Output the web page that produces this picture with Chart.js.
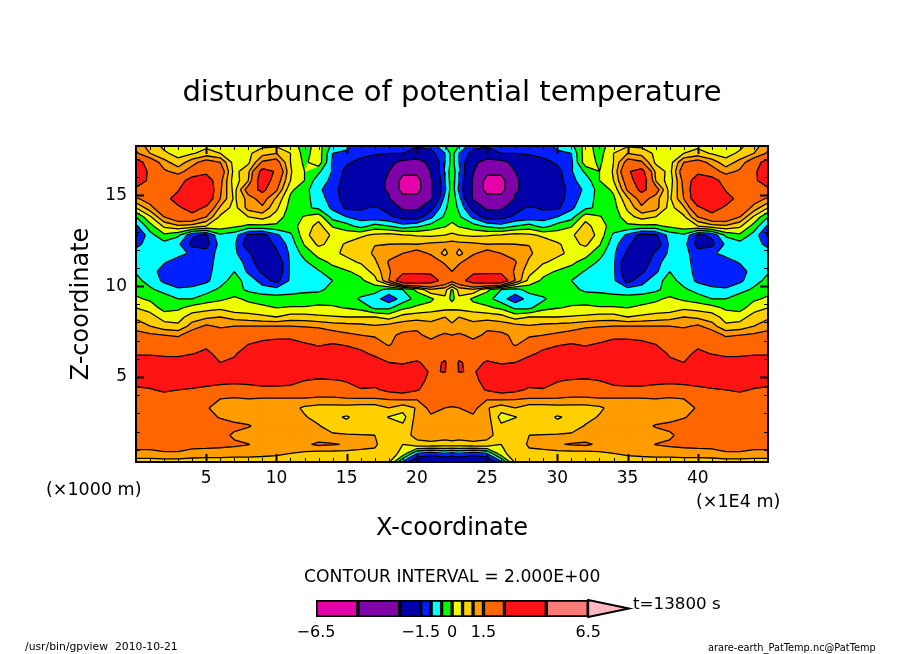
<!DOCTYPE html>
<html>
<head>
<meta charset="utf-8">
<title>disturbunce of potential temperature</title>
<script src="https://cdn.jsdelivr.net/npm/chart.js@4"></script>
<style>
  body { margin: 0; background: #fff; width: 904px; height: 654px; overflow: hidden; position: relative; }
  canvas { position: absolute; }
  .note { position: absolute; font-family: "DejaVu Sans"; color: #000; white-space: pre; line-height: 1; }
</style>
</head>
<body>
<canvas id="field" width="904" height="654" style="left:0;top:0;width:904px;height:654px"></canvas>
<canvas id="colorbar" width="350" height="60" style="left:290px;top:585px;width:350px;height:60px"></canvas>
<div class="note" style="left:46px;top:481px;font-size:17.5px">(×1000 m)</div>
<div class="note" style="left:696px;top:493px;font-size:17.5px">(×1E4 m)</div>
<div class="note" style="left:304px;top:568px;font-size:17.2px">CONTOUR INTERVAL = 2.000E+00</div>
<div class="note" style="left:633px;top:595px;font-size:16.7px">t=13800 s</div>
<div class="note" style="left:25px;top:642px;font-size:10.8px">/usr/bin/gpview  2010-10-21</div>
<div class="note" style="left:708px;top:643px;font-size:9.8px">arare-earth_PatTemp.nc@PatTemp</div>
<script>
const levels = [-6.5, -4.5, -2.5, -1.5, -1, -0.5, 0, 0.5, 1, 1.5, 2.5, 4.5, 6.5];
const bandColors = ['#e600aa', '#8000aa', '#0000aa', '#0020ff', '#00ffff', '#00ff00', '#eeff00',
  '#ffd000', '#ff9c00', '#ff6600', '#ff1414', '#ff7878'];
const overColor = '#ffb8c0';

const xTicks = [5, 10, 15, 20, 25, 30, 35, 40];
const zTicks = [5, 10, 15];
const barTicks = [-6.5, -1.5, 0, 1.5, 6.5];
const barTickLabels = ['−6.5', '−1.5', '0', '1.5', '6.5'];

// left half of the section, the right half is its mirror about x = 22.5
const xHalf = [0, 1, 2, 3, 4, 5, 6, 7, 8, 9, 10, 11, 12, 13, 14, 15, 16, 17, 18, 19, 20, 21, 22, 22.5];
const zValues = [17.8, 17.3, 16.8, 16.3, 15.8, 15.3, 14.8, 14.3, 13.8, 13.3, 12.8, 12.3,
  11.8, 11.3, 10.8, 10.3, 9.8, 9.3, 8.8, 8.3, 7.8, 7.3, 6.8, 6.3,
  5.8, 5.3, 4.8, 4.3, 3.8, 3.3, 2.8, 2.3, 1.8, 1.3, 0.8, 0.3];
const thetaHalf = [
  [1.2,.8,.3,.2,.3,.3,.3,.2,.3,.3,.3,.2,-.2,.2,-.6,-.8,-1.2,-1.3,-1.3,-1.4,-1.4,-1.2,-.4,-.2],
  [1.6,1,.6,.3,.45,.7,.5,.2,.4,.8,1,.5,-.2,.3,-1,-1.1,-1.3,-1.4,-1.5,-1.5,-1.7,-1.7,-1,-.3],
  [3,2,1.2,.7,1.3,1.8,1.5,.25,.4,1.6,1.8,.5,-.1,.3,-1.1,-1.4,-1.7,-2,-2.2,-2.8,-3,-2.2,-1,-.3],
  [3.6,2.2,1.6,1.3,1.8,2.2,2,.3,.9,2.9,2.4,.55,0,-.4,-1.05,-1.7,-2,-2.1,-2.5,-4,-4,-2.4,-.9,-.2],
  [3.4,2.2,2,2,3,3.2,1.7,.2,1,3.3,1.9,.5,0,-.8,-1.1,-1.8,-2.1,-2.2,-2.6,-5.2,-5.2,-2.6,-1,-.2],
  [2.2,2,2,2.4,3.8,3.6,1.6,.3,1.9,2.8,1.6,.1,-.3,-.9,-1.3,-1.8,-2.1,-2.2,-2.6,-5.2,-5.2,-2.6,-1.1,-.2],
  [1.4,1.8,2.1,3,3.8,3.4,1.5,.4,1.2,1.8,.9,-.1,-.3,-.8,-1.2,-1.8,-2.1,-2.2,-2.4,-3.8,-3.8,-2.6,-.8,-.2],
  [.5,1.3,2.1,2.3,3,2.3,.9,.3,1.2,1.4,.6,-.2,-.4,-.6,-1.1,-1.6,-1.6,-1.4,-1.7,-2.7,-2.7,-1.7,-.6,-.2],
  [-.5,.4,1.5,2.1,2.1,1.5,.4,.2,.5,.7,.3,-.3,.05,.3,-.7,-1,-1.2,-1.3,-1.4,-1.7,-1.8,-1.1,-.4,-.2],
  [-1.1,-.2,.6,.9,.8,.5,.3,.1,-.1,-.1,-.1,-.2,.2,.7,-.05,-.3,-.7,-.3,-.5,-.8,-.6,-.3,-.05,.15],
  [-1.6,-.7,-.1,-.4,-1.4,-1.6,-.6,-.8,-1.6,-1.7,-1.1,-.6,.3,.9,.4,.3,.4,.6,.7,.55,.45,.4,.5,.6],
  [-1.2,-.7,-.7,-.9,-1.65,-1.7,-.8,-.9,-1.9,-1.8,-1.4,-.8,.05,.6,.35,.55,.8,.98,1,1.02,1,1.1,1.15,1.2],
  [-.7,-.7,-.8,-.8,-1.1,-1.3,-.8,-.9,-1.4,-2,-1.6,-.9,-.3,.2,.4,.6,.7,1.1,1.35,1.5,1.8,1.4,.85,1.25],
  [-.7,-.8,-.95,-1.3,-1.2,-1.3,-.7,-.7,-1.2,-1.9,-2,-.9,-.6,-.2,.1,.35,.55,.9,1.55,2,2.1,2,1.4,1.45],
  [-.55,-.7,-1.3,-1.4,-1.4,-1.2,-.7,-.5,-1.1,-1.6,-2,-.9,-.7,-.55,-.2,-.05,.15,.7,1.4,2.2,2.2,2.3,1.9,1.5],
  [-.35,-.7,-1.1,-1.4,-1.4,-1.1,-.7,-.3,-.7,-1.2,-1.7,-.9,-.7,-.7,-.5,-.25,-.1,.3,1.5,3.5,3.5,3,2.1,1.7],
  [-.2,-.4,-.7,-.9,-.8,-.7,-.4,-.3,-.6,-.8,-.8,-.7,-.6,-.6,-.35,-.2,-.15,-.3,-.7,-.5,.1,.9,.7,-.1],
  [.1,-.1,-.2,-.5,-.5,-.25,-.1,.1,-.1,-.2,-.3,-.3,-.3,-.2,-.15,-.15,-.6,-.8,-1.3,-.8,-.3,-.1,.4,-.2],
  [.5,.3,-.2,-.1,.2,.3,.4,.2,.2,.1,0,.05,.05,.1,.05,-.02,-.15,-.6,-.6,-.1,.1,.2,.35,.4],
  [.9,.7,.3,.3,.75,.9,1,.8,.7,.6,.5,.7,.7,.6,.55,.5,.5,.5,.3,.7,.8,.9,1,.9],
  [1.3,1,.7,.6,1.2,1.6,1.4,1.5,1.5,1.5,1.5,1.5,1.45,1.4,1.25,1.2,1.15,1.05,1.2,1.3,1.4,1.1,1.1,1.05],
  [1.7,1.6,1.5,1.4,1.9,2.2,1.9,2,2.1,2.2,2.2,2.2,2,1.9,1.75,1.6,1.5,1.4,1.4,1.6,1.6,1.35,1.6,1.5],
  [2.1,2.1,2,2,2.2,2.3,2.2,2.3,2.5,2.7,2.9,2.9,2.6,2.4,2.55,2.4,2.2,1.9,1.4,2,1.9,1.7,1.55,1.5],
  [2.4,2.4,2.3,2.3,2.45,2.7,2.2,2.3,3.3,3.5,3.5,3.5,3.2,2.9,3.1,3,2.7,2.3,2,2.1,2.05,2,2.1,2],
  [2.9,2.9,2.9,2.85,3.1,3.1,2.5,2.8,3.5,3.6,3.6,3.6,3.5,3.5,3.5,3.5,3.3,2.9,2.5,2.4,2.6,2.2,2.6,1.9],
  [3.5,3.5,3.5,3.5,3.5,3.5,3.4,3.4,3.5,3.5,3.5,3.5,3.5,3.6,3.6,3.5,3.4,3.3,3.1,3,2.9,2.4,2.55,1.9],
  [3.1,3.1,3,3,3.1,3,2.8,2.7,2.8,3,3,2.9,2.5,2.2,2.35,2.6,3.1,3.1,2.9,3,2.9,2.2,1.9,1.8],
  [2.2,2.4,2.7,2.5,2.4,2.2,2.1,2.1,2.1,2.15,2.15,2.1,2,1.9,1.9,2,2.4,2.3,2.8,3,2.6,2.05,1.9,1.9],
  [1.9,1.9,1.9,1.9,1.9,1.8,1.5,1.4,1.5,1.45,1.45,1.45,1.45,1.4,1.4,1.45,1.45,1.45,1.55,1.6,1.55,1.6,1.8,1.8],
  [1.9,1.9,1.9,1.9,1.8,1.55,1.3,1.3,1.3,1.25,1.25,1.2,.9,.8,.8,.8,.75,.75,1,.7,1.05,1.7,1.5,1.45],
  [1.9,1.9,1.9,1.9,1.8,1.7,1.45,1.3,1.25,1.2,1.2,1.2,1.05,.8,.6,.45,.7,.75,.47,.3,1.2,1.4,1.25,1.25],
  [1.9,1.9,1.9,1.9,1.9,1.9,1.8,1.65,1.55,1.3,1.2,1.2,1.2,1.05,.7,.65,.65,.6,.8,.6,1.2,1.3,1.3,1.3],
  [1.8,1.8,1.8,1.8,1.8,1.8,1.7,1.4,1.2,1.2,1.2,1.2,1.25,1.2,1.1,1.05,1.03,1,.8,.8,1.15,1.2,1.2,1.25],
  [1.7,1.7,1.7,1.7,1.7,1.7,1.65,1.6,1.52,1.3,1.2,1.3,1.4,1.6,1.55,1.45,1.25,1.1,.6,.5,.85,.9,.8,.85],
  [1.35,1.35,1.45,1.45,1.3,1.25,1.25,1.2,1.2,1.15,1.1,1,.9,.8,.8,.8,.8,.85,.75,.35,-1,-1.3,-1,-1.2],
  [.7,.7,.7,.7,.7,.7,.7,.7,.7,.7,.7,.7,.7,.7,.7,.7,.7,.7,.55,-1.2,-2.2,-2.3,-2.2,-2.2]
];

const xValues = xHalf.concat(xHalf.slice(0, -1).reverse().map(x => 45 - x));
const theta = thetaHalf.map(row => row.concat(row.slice(0, -1).reverse()));

// walk one grid cell, corners in order, return the point where an edge crosses the level
function cellCorners(i, j) {
  return [
    { x: xValues[i], z: zValues[j], v: theta[j][i] },
    { x: xValues[i + 1], z: zValues[j], v: theta[j][i + 1] },
    { x: xValues[i + 1], z: zValues[j + 1], v: theta[j + 1][i + 1] },
    { x: xValues[i], z: zValues[j + 1], v: theta[j + 1][i] }
  ];
}
function crossing(a, b, level) {
  const t = (level - a.v) / (b.v - a.v);
  return { x: a.x + t * (b.x - a.x), z: a.z + t * (b.z - a.z) };
}

function contourSegments(level) {
  const pts = [];
  for (let j = 0; j < zValues.length - 1; j++) {
    for (let i = 0; i < xValues.length - 1; i++) {
      const c = cellCorners(i, j);
      const hits = [];
      c.forEach((a, n) => {
        const b = c[(n + 1) % 4];
        if ((a.v >= level) !== (b.v >= level)) hits.push(crossing(a, b, level));
      });
      for (let n = 0; n + 1 < hits.length; n += 2) {
        pts.push({ x: hits[n].x, y: hits[n].z }, { x: hits[n + 1].x, y: hits[n + 1].z }, { x: NaN, y: NaN });
      }
    }
  }
  return pts;
}

const bandFill = {
  id: 'bandFill',
  beforeDatasetsDraw(chart) {
    const { ctx, chartArea: a, scales } = chart;
    ctx.save();
    ctx.beginPath();
    ctx.rect(a.left, a.top, a.width, a.height);
    ctx.clip();
    ctx.fillStyle = bandColors[0];
    ctx.fillRect(a.left, a.top, a.width, a.height);
    levels.forEach((level, k) => {
      const color = k < bandColors.length ? bandColors[k] : overColor;
      ctx.beginPath();
      for (let j = 0; j < zValues.length - 1; j++) {
        for (let i = 0; i < xValues.length - 1; i++) {
          const c = cellCorners(i, j);
          const poly = [];
          c.forEach((p, n) => {
            const q = c[(n + 1) % 4];
            if (p.v >= level) poly.push(p);
            if ((p.v >= level) !== (q.v >= level)) poly.push(crossing(p, q, level));
          });
          poly.forEach((p, n) => {
            const px = scales.x.getPixelForValue(p.x);
            const py = scales.y.getPixelForValue(p.z);
            if (n === 0) ctx.moveTo(px, py); else ctx.lineTo(px, py);
          });
          if (poly.length) ctx.closePath();
        }
      }
      ctx.fillStyle = color;
      ctx.strokeStyle = color;
      ctx.lineWidth = 0.8;
      ctx.fill();
      ctx.stroke();
    });
    ctx.restore();
  }
};

const frameTicks = {
  id: 'frameTicks',
  afterDatasetsDraw(chart) {
    const { ctx, chartArea: a, scales } = chart;
    ctx.save();
    ctx.strokeStyle = '#000';
    const tick = (x0, y0, x1, y1, width) => {
      ctx.lineWidth = width;
      ctx.beginPath();
      ctx.moveTo(x0, y0);
      ctx.lineTo(x1, y1);
      ctx.stroke();
    };
    for (let v = 1; v < 45; v++) {
      const major = v % 5 === 0;
      const len = major ? 8 : 4;
      const px = Math.round(scales.x.getPixelForValue(v)) + 0.5;
      tick(px, a.bottom, px, a.bottom - len, major ? 2 : 1);
      tick(px, a.top, px, a.top + len, major ? 2 : 1);
    }
    for (let v = 1; v < 18; v++) {
      const major = v % 5 === 0;
      const len = major ? 8 : 4;
      const py = Math.round(scales.y.getPixelForValue(v)) + 0.5;
      tick(a.left, py, a.left + len, py, major ? 2 : 1);
      tick(a.right, py, a.right - len, py, major ? 2 : 1);
    }
    ctx.lineWidth = 2;
    ctx.strokeRect(a.left, a.top, a.width, a.height);
    ctx.restore();
  }
};

new Chart(document.getElementById('field'), {
  type: 'scatter',
  data: {
    datasets: levels.map(level => ({
      label: String(level),
      data: contourSegments(level),
      showLine: true,
      spanGaps: false,
      borderColor: '#000',
      borderWidth: 1.3,
      pointRadius: 0
    }))
  },
  options: {
    responsive: false,
    animation: false,
    devicePixelRatio: 1,
    layout: { padding: { right: 136 } },
    plugins: {
      legend: { display: false },
      tooltip: { enabled: false },
      title: {
        display: true,
        fullSize: false,
        text: 'disturbunce of potential temperature',
        color: '#000',
        font: { family: 'DejaVu Sans', size: 29, weight: 'normal', lineHeight: 1.2 },
        padding: { top: 76, bottom: 35.2 }
      }
    },
    scales: {
      x: {
        type: 'linear', min: 0, max: 45,
        grid: { display: false, drawTicks: false },
        border: { display: false },
        afterFit: s => { s.height = 192; },
        afterBuildTicks: s => { s.ticks = xTicks.map(value => ({ value })); },
        ticks: { color: '#000', padding: 6, autoSkip: false, maxRotation: 0,
          font: { family: 'DejaVu Sans', size: 17 } },
        title: { display: true, text: 'X-coordinate', color: '#000',
          font: { family: 'DejaVu Sans', size: 24 }, padding: { top: 0, bottom: 111 } }
      },
      y: {
        type: 'linear', min: 0.33, max: 17.7,
        grid: { display: false, drawTicks: false },
        border: { display: false },
        afterFit: s => { s.width = 136; },
        afterBuildTicks: s => { s.ticks = zTicks.map(value => ({ value })); },
        ticks: { color: '#000', padding: 9, autoSkip: false,
          font: { family: 'DejaVu Sans', size: 17 } },
        title: { display: true, text: 'Z-coordinate', color: '#000',
          font: { family: 'DejaVu Sans', size: 24 }, padding: { top: 67, bottom: 0 } }
      }
    }
  },
  plugins: [bandFill, frameTicks]
});

const overArrow = {
  id: 'overArrow',
  afterDatasetsDraw(chart) {
    const { ctx, chartArea: a, scales } = chart;
    ctx.save();
    ctx.beginPath();
    ctx.moveTo(scales.x.getPixelForValue(levels[levels.length - 1]), a.top);
    ctx.lineTo(a.right, (a.top + a.bottom) / 2);
    ctx.lineTo(scales.x.getPixelForValue(levels[levels.length - 1]), a.bottom);
    ctx.closePath();
    ctx.fillStyle = overColor;
    ctx.strokeStyle = '#000';
    ctx.lineWidth = 2;
    ctx.fill();
    ctx.stroke();
    ctx.restore();
  }
};

new Chart(document.getElementById('colorbar'), {
  type: 'bar',
  data: {
    labels: ['theta'],
    datasets: bandColors.map((color, k) => ({
      data: [[levels[k], levels[k + 1]]],
      backgroundColor: color,
      borderColor: '#000',
      borderWidth: 2,
      borderSkipped: false,
      grouped: false,
      barPercentage: 1,
      categoryPercentage: 1
    }))
  },
  options: {
    indexAxis: 'y',
    responsive: false,
    animation: false,
    devicePixelRatio: 1,
    layout: { padding: { left: 26, right: 11, top: 15 } },
    plugins: { legend: { display: false }, tooltip: { enabled: false } },
    scales: {
      x: {
        type: 'linear', min: -6.5, max: 8.45,
        grid: { display: false, drawTicks: false },
        border: { display: false },
        afterFit: s => { s.height = 28; },
        afterBuildTicks: s => { s.ticks = barTicks.map(value => ({ value })); },
        ticks: { color: '#000', padding: 6, autoSkip: false, maxRotation: 0,
          font: { family: 'DejaVu Sans', size: 16 },
          callback: (value, i) => barTickLabels[i] }
      },
      y: { display: false }
    }
  },
  plugins: [overArrow]
});
</script>
</body>
</html>
